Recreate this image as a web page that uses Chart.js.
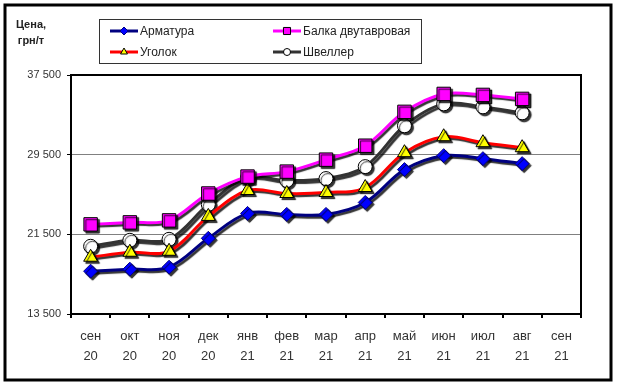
<!DOCTYPE html>
<html>
<head>
<meta charset="utf-8">
<script src="https://cdn.jsdelivr.net/npm/chart.js@4"></script>
<style>
  html, body { margin: 0; padding: 0; background: #fff; }
  #wrap { position: relative; width: 619px; height: 383px; }
</style>
</head>
<body>
<div id="wrap"><canvas id="priceChart" width="619" height="383"></canvas></div>
<script>
// Months
const labels = [
  ["сен", "20"], ["окт", "20"], ["ноя", "20"], ["дек", "20"], ["янв", "21"],
  ["фев", "21"], ["мар", "21"], ["апр", "21"], ["май", "21"], ["июн", "21"],
  ["июл", "21"], ["авг", "21"], ["сен", "21"],
];

// Prices, UAH/t
const armatura = [17800, 18000, 18200, 21100, 23600, 23500, 23500, 24700, 28000, 29400, 29100, 28600];
const balka = [22500, 22700, 22900, 25600, 27300, 27800, 29000, 30400, 33800, 35600, 35500, 35100];
const ugolok = [19200, 19700, 19800, 23300, 25900, 25600, 25700, 26200, 29700, 31300, 30700, 30200];
const shveller = [20300, 20900, 21000, 24500, 27200, 26900, 27100, 28300, 32400, 34600, 34300, 33700];

const yTicks = [13500, 21500, 29500, 37500];

const seriesNames = ["Арматура", "Балка двутавровая", "Уголок", "Швеллер"];

const FONT = "'Liberation Sans', Arial, sans-serif";

// Shadow under lines and markers
const shadowPlugin = {
  id: "shadow",
  beforeDatasetsDraw(chart) {
    const ctx = chart.ctx;
    ctx.save();
    ctx.shadowColor = "rgba(0,0,0,0.8)";
    ctx.shadowOffsetX = 2;
    ctx.shadowOffsetY = 2;
    ctx.shadowBlur = 1;
  },
  afterDatasetsDraw(chart) {
    chart.ctx.restore();
  },
};

// Plot frame, outer frame, axis title and legend
const framePlugin = {
  id: "frames",
  afterDraw(chart) {
    const ctx = chart.ctx;
    const a = chart.chartArea;
    ctx.save();
    ctx.strokeStyle = "#000";
    ctx.lineWidth = 2;
    ctx.strokeRect(a.left, a.top, a.right - a.left, a.bottom - a.top);

    ctx.lineWidth = 3;
    ctx.strokeRect(5, 5, 606, 375);

    // axis title
    ctx.fillStyle = "#222";
    ctx.font = "bold 11px " + FONT;
    ctx.textAlign = "center";
    ctx.textBaseline = "middle";
    ctx.fillText("Цена,", 31, 25);
    ctx.fillText("грн/т", 31, 41);

    // legend box
    ctx.lineWidth = 1;
    ctx.strokeStyle = "#333";
    ctx.strokeRect(99.5, 19.5, 322, 44);
    const items = [
      { x: 110, y: 31, ds: chart.data.datasets[0] },
      { x: 273, y: 31, ds: chart.data.datasets[1] },
      { x: 110, y: 52, ds: chart.data.datasets[2] },
      { x: 273, y: 52, ds: chart.data.datasets[3] },
    ];
    ctx.font = "12px " + FONT;
    ctx.textAlign = "left";
    items.forEach((it) => {
      const ds = it.ds;
      ctx.strokeStyle = ds.borderColor;
      ctx.lineWidth = 3;
      ctx.beginPath();
      ctx.moveTo(it.x, it.y);
      ctx.lineTo(it.x + 28, it.y);
      ctx.stroke();
      ctx.fillStyle = ds.pointBackgroundColor;
      ctx.strokeStyle = ds.pointBorderColor;
      ctx.lineWidth = 1;
      Chart.helpers.drawPoint(ctx, { pointStyle: ds.pointStyle, radius: ds.legendRadius, borderWidth: 1 }, it.x + 14, it.y);
      ctx.fillStyle = "#222";
      ctx.fillText(ds.label, it.x + 30, it.y + 1);
    });
    ctx.restore();
  },
};

const ctx = document.getElementById("priceChart").getContext("2d");

const priceChart = new Chart(ctx, {
  type: "line",
  data: {
    labels: labels,
    datasets: [
      {
        label: seriesNames[0],
        data: armatura,
        borderColor: "#000080",
        pointBackgroundColor: "#0000ff",
        pointBorderColor: "#000080",
        pointStyle: "rectRot",
        pointRadius: 7,
        legendRadius: 4,
      },
      {
        label: seriesNames[1],
        data: balka,
        borderColor: "#ff00ff",
        pointBackgroundColor: "#ff00ff",
        pointBorderColor: "#000000",
        pointStyle: "rect",
        pointRadius: 9.5,
        legendRadius: 5,
      },
      {
        label: seriesNames[2],
        data: ugolok,
        borderColor: "#ff0000",
        pointBackgroundColor: "#ffff00",
        pointBorderColor: "#000000",
        pointStyle: "triangle",
        pointRadius: 8,
        legendRadius: 4,
      },
      {
        label: seriesNames[3],
        data: shveller,
        borderColor: "#333333",
        pointBackgroundColor: "#ffffff",
        pointBorderColor: "#000000",
        pointStyle: "circle",
        pointRadius: 7,
        legendRadius: 3.5,
      },
    ],
  },
  options: {
    responsive: false,
    animation: false,
    devicePixelRatio: 1,
    layout: { padding: { left: 0, top: 75, right: 38, bottom: 0 } },
    elements: {
      line: { borderWidth: 3, tension: 0.35 },
      point: { borderWidth: 1, hoverRadius: 7 },
    },
    plugins: {
      legend: { display: false },
      tooltip: { enabled: false },
    },
    scales: {
      x: {
        offset: true,
        afterFit(scale) { scale.height = 69; },
        grid: {
          display: true,
          drawOnChartArea: false,
          offset: true,
          tickLength: 4,
          tickColor: "#000",
          lineWidth: 2,
        },
        border: { display: true, color: "#000", width: 2 },
        ticks: {
          color: "#333",
          maxRotation: 0,
          autoSkip: false,
          padding: 9,
          font: { family: FONT, size: 13, lineHeight: 1.5 },
        },
      },
      y: {
        min: 13500,
        max: 37500,
        afterFit(scale) { scale.width = 71; },
        afterBuildTicks(scale) { scale.ticks = yTicks.map((v) => ({ value: v })); },
        grid: {
          color: "#808080",
          lineWidth: 1,
          tickLength: 4,
          tickColor: "#000",
        },
        border: { display: true, color: "#000", width: 2 },
        ticks: {
          color: "#333",
          padding: 6,
          font: { family: FONT, size: 11 },
          callback: (v) => String(v).replace(/(\d)(\d{3})$/, "$1 $2"),
        },
      },
    },
  },
  plugins: [shadowPlugin, framePlugin],
});
</script>
</body>
</html>
